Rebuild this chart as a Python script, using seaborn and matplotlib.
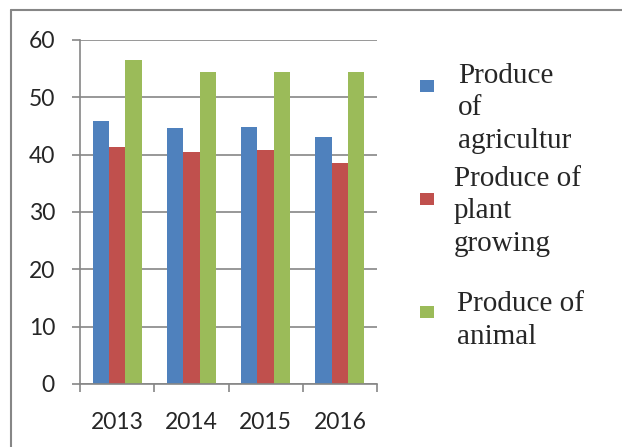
import pandas as pd
import matplotlib.pyplot as plt
import matplotlib.lines as mlines
from matplotlib.patches import Patch
import seaborn as sns

# Data
years = ['2013', '2014', '2015', '2016']
series = ['Produce\nof\nagricultur', 'Produce of\nplant\ngrowing', 'Produce of\nanimal']
agriculture = [45.9, 44.7, 44.8, 43.0]
plant_growing = [41.3, 40.5, 40.8, 38.6]
animal = [56.5, 54.5, 54.5, 54.4]
colors = ['#4F81BD', '#C0504D', '#9BBB59']

df = pd.DataFrame({
    'Year': years * 3,
    'Series': [series[0]] * 4 + [series[1]] * 4 + [series[2]] * 4,
    'Value': agriculture + plant_growing + animal,
})

sns.set_style('white')
plt.rcParams['font.family'] = ['Lato', 'DejaVu Sans']

fig = plt.figure(figsize=(6.22, 4.47), dpi=100)
ax = fig.add_axes([80 / 622, 1 - 384 / 447, 297 / 622, 344 / 447])

sns.barplot(data=df, x='Year', y='Value', hue='Series', palette=colors,
            saturation=1, width=0.66, linewidth=0, ax=ax, legend=False)

grey = '#868686'
ax.set_ylim(0, 60)
ax.set_xlim(-0.5, 3.5)
ax.set_yticks(range(0, 61, 10))
ax.yaxis.grid(True, color=grey, linewidth=1.2)
ax.set_axisbelow(True)
for s in ['top', 'right']:
    ax.spines[s].set_visible(False)
for s in ['left', 'bottom']:
    ax.spines[s].set_color(grey)
    ax.spines[s].set_linewidth(1.2)

ax.tick_params(axis='y', length=6, width=1.2, color=grey, pad=12,
               labelsize=16.5, left=True)
ax.tick_params(axis='x', which='major', length=0, pad=20, labelsize=16.5)
ax.set_xticks([-0.5, 0.5, 1.5, 2.5, 3.5], minor=True)
ax.tick_params(axis='x', which='minor', length=6, width=1.2, color=grey,
               bottom=True)
ax.set_xlabel('')
ax.set_ylabel('')

# legend keys
handles = [Patch(facecolor=c, edgecolor='none') for c in colors]
leg = fig.legend(handles, ['', '', ''], loc='upper left',
                 bbox_to_anchor=(413 / 622, 1 - 73 / 447),
                 frameon=False, prop={'size': 10},
                 handlelength=1.0, handleheight=1.0, handletextpad=0,
                 labelspacing=7.2, borderpad=0)

# legend labels (Times-like serif), placed by the baseline of their last line
label_x = [458, 454, 457]
label_base = [148, 251, 344]
for txt, lx, by in zip(series, label_x, label_base):
    fig.text(lx / 622, 1 - by / 447, txt, family='Liberation Serif',
             fontsize=21, va='baseline', ha='left', linespacing=1.33)

# outer chart border (top and left edges visible)
fig.add_artist(mlines.Line2D([11 / 622, 1], [1 - 10 / 447, 1 - 10 / 447],
                             color=grey, linewidth=1.5))
fig.add_artist(mlines.Line2D([11 / 622, 11 / 622], [0, 1 - 10 / 447],
                             color=grey, linewidth=1.5))

fig.savefig('out.png', dpi=100)
